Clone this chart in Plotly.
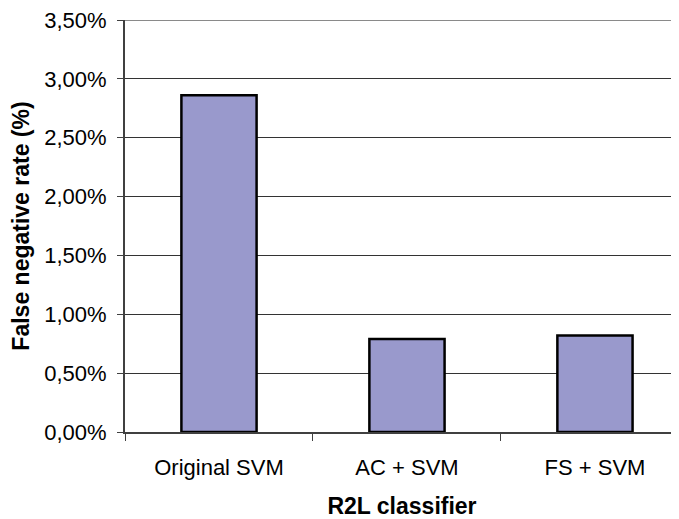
import plotly.graph_objects as go

categories = ["Original SVM", "AC + SVM", "FS + SVM"]
fn_rate = [0.0286, 0.0079, 0.0082]
y_ticks = [0, 0.005, 0.01, 0.015, 0.02, 0.025, 0.03, 0.035]

fig = go.Figure(go.Bar(
    x=categories, y=fn_rate, width=0.4,
    marker=dict(color="#9999CC", line=dict(color="black", width=2.5)),
))

# top frame line (plot-area border at the 3,50% level)
fig.add_shape(type="line", xref="paper", yref="y", x0=0, x1=1,
              y0=y_ticks[-1], y1=y_ticks[-1],
              line=dict(color="#8a8a8a", width=2), layer="below")

font = "Liberation Sans, Arial, sans-serif"
fig.update_layout(
    width=671, height=511,
    margin=dict(l=117, r=0, t=12, b=87),
    paper_bgcolor="white", plot_bgcolor="white",
    separators=", ",
    showlegend=False,
    font=dict(family=font, size=22, color="black"),
    xaxis=dict(
        type="category", range=[-0.5, 2.447],
        showline=True, linecolor="#404040", linewidth=2,
        ticks="outside", tickson="boundaries", ticklen=7, tickcolor="#404040",
        tickfont=dict(size=22), ticklabelstandoff=15,
        title=dict(text="<b>R2L classifier</b>", font=dict(size=23), standoff=30),
        showgrid=False, zeroline=False, automargin=False,
    ),
    yaxis=dict(
        range=[0, 0.035], tickvals=y_ticks, tickformat=".2%",
        showline=True, linecolor="#404040", linewidth=2,
        ticks="outside", ticklen=6, tickcolor="#404040",
        tickfont=dict(size=22), ticklabelstandoff=6, ticklabeloverflow="allow",
        showgrid=True, gridcolor="#333333", gridwidth=1,
        zeroline=False, automargin=False,
        title=dict(text="<b>False negative rate (%)</b>", font=dict(size=23), standoff=10),
    ),
)

fig.write_html("out.html")
